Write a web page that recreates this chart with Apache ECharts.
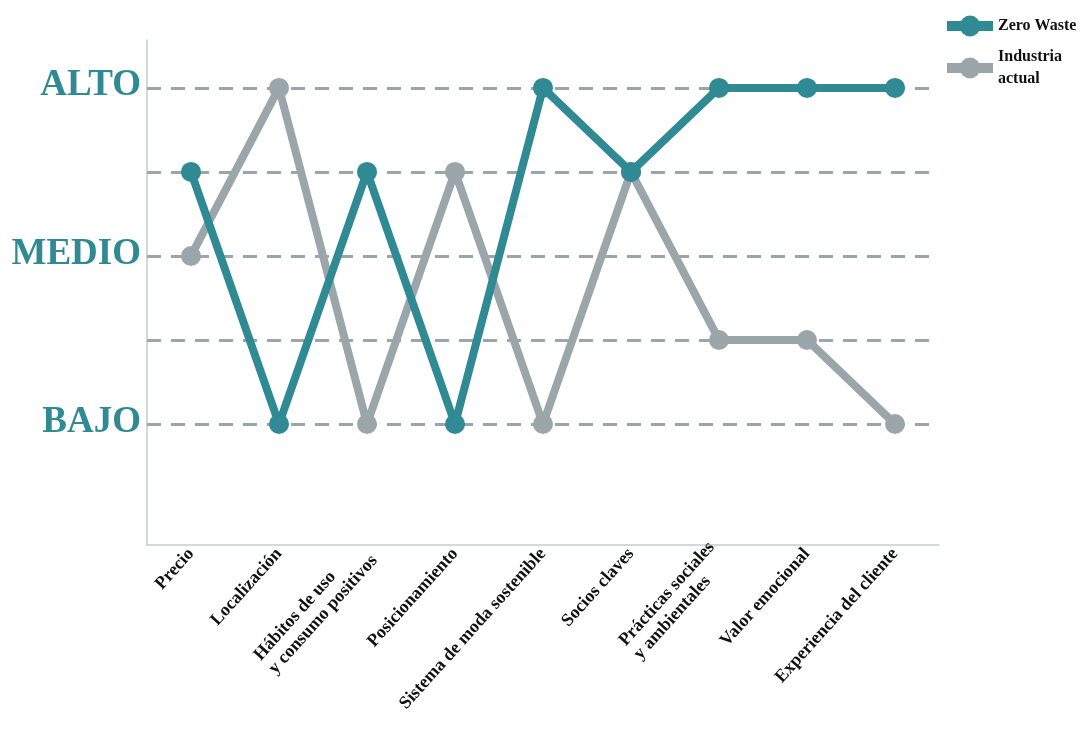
<!DOCTYPE html>
<html>
<head>
<meta charset="utf-8">
<script src="https://cdn.jsdelivr.net/npm/echarts@6/dist/echarts.min.js"></script>
<style>html,body{margin:0;padding:0;background:#fff;}#c{width:1090px;height:731px;}</style>
</head>
<body>
<div id="c"></div>
<script>
const categories = ['Precio', 'Localización', 'Hábitos de uso\ny consumo positivos', 'Posicionamiento', 'Sistema de moda sostenible', 'Socios claves', 'Prácticas sociales\ny ambientales', 'Valor emocional', 'Experiencia del cliente'];
const zeroWaste = [4, 1, 4, 1, 5, 4, 5, 5, 5];
const industria = [3, 5, 1, 4, 1, 4, 2, 2, 1];
const levelValues = [1, 2, 3, 4, 5];
const levelLabels = {1: 'BAJO', 3: 'MEDIO', 5: 'ALTO'};

const TEAL = '#2F8A93';
const GRAY = '#9BA6AB';
const serif = '"Liberation Serif", "DejaVu Serif", serif';

const chart = echarts.init(document.getElementById('c'));
chart.setOption({
  animation: false,
  backgroundColor: '#fff',
  grid: {left: 147, top: 40, width: 792, height: 505, containLabel: false},
  legend: {
    orient: 'vertical', left: 937, top: 7,
    itemWidth: 46, itemHeight: 26, itemGap: 9,
    lineStyle: {width: 10},
    data: [
      {name: 'Zero Waste', textStyle: {padding: [0, 0, 6, 0]}},
      {name: 'Industria\nactual', textStyle: {verticalAlign: 'top', padding: [-13, 0, 0, 0]}}
    ],
    textStyle: {fontFamily: serif, fontWeight: 'bold', fontSize: 16, color: '#111', lineHeight: 22}
  },
  xAxis: {
    type: 'category', data: categories, boundaryGap: true,
    axisLine: {onZero: false, lineStyle: {color: '#C5CBCE', width: 1.5}},
    axisTick: {show: false},
    axisLabel: {
      rotate: 48, margin: 6, interval: 0, color: '#111',
      fontFamily: serif, fontWeight: 'bold', fontSize: 18, lineHeight: 20,
      formatter: function (v) { return v.split('\n').map(s => '{a|' + s + '}').join('\n'); },
      rich: {a: {align: 'left', fontFamily: serif, fontWeight: 'bold', fontSize: 18, color: '#111', lineHeight: 20}}
    }
  },
  yAxis: {
    type: 'value', min: -0.44, max: 5.57,
    axisLine: {show: true, lineStyle: {color: '#C5CBCE', width: 1.5}},
    axisTick: {show: false},
    splitLine: {show: false},
    axisLabel: {
      customValues: [1, 3, 5], margin: 6,
      formatter: function (v) { return levelLabels[v] || ''; },
      color: TEAL, fontFamily: serif, fontWeight: 'bold', fontSize: 37,
      verticalAlign: 'bottom', lineHeight: 40, padding: [0, 0, -18, 0]
    }
  },
  series: [
    {
      name: 'Zero Waste', type: 'line', data: zeroWaste, z: 4,
      symbol: 'circle', symbolSize: 20,
      lineStyle: {color: TEAL, width: 8}, itemStyle: {color: TEAL},
      markLine: {
        silent: true, symbol: 'none', z: 1,
        label: {show: false},
        lineStyle: {color: GRAY, type: [14, 10], width: 3},
        data: levelValues.map(v => ({yAxis: v}))
      }
    },
    {
      name: 'Industria\nactual', type: 'line', data: industria, z: 3,
      symbol: 'circle', symbolSize: 20,
      lineStyle: {color: GRAY, width: 8}, itemStyle: {color: GRAY}
    }
  ]
});
</script>
</body>
</html>
